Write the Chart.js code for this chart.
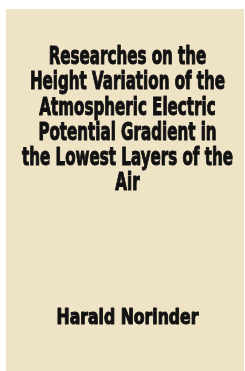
<!DOCTYPE html>
<html>
<head>
<meta charset="utf-8">
<script src="https://cdn.jsdelivr.net/npm/chart.js@4"></script>
<style>
  html, body { margin: 0; padding: 0; background: #ffffff; }
  canvas { display: block; }
</style>
</head>
<body>
<canvas id="coverChart" width="245" height="371"></canvas>
<script>
// cover texts
var titleLines = [
    'Researches on the',
    'Height Variation of the',
    'Atmospheric Electric',
    'Potential Gradient in',
    'the Lowest Layers of the',
    'Air'
];
var authorLines = ['Harald Norinder'];

// condensed lettering, drawn a little heavier than the stock bold
function drawLines(ctx, lines, cx, y0, step, sx) {
    lines.forEach(function(t, i) {
        ctx.save();
        ctx.translate(cx, y0 + i * step);
        ctx.scale(sx, 1);
        ctx.strokeText(t, 0, 0);
        ctx.fillText(t, 0, 0);
        ctx.restore();
    });
}

// draws the cover paper + the lettering
var coverPlugin = {
    id: 'cover',
    beforeDraw: function(chart) {
        var ctx = chart.ctx, a = chart.chartArea;
        ctx.save();
        ctx.fillStyle = '#efe3c6';
        ctx.fillRect(a.left, a.top, a.right - a.left, a.bottom - a.top);
        ctx.restore();
    },
    afterDraw: function(chart) {
        var ctx = chart.ctx, a = chart.chartArea;
        var cx = (a.left + a.right) / 2 + 2.5;
        ctx.save();
        ctx.fillStyle = '#111111';
        ctx.strokeStyle = '#111111';
        ctx.lineWidth = 1.0;
        ctx.lineJoin = 'round';
        ctx.textAlign = 'center';
        ctx.textBaseline = 'middle';
        ctx.font = 'bold 24px "DejaVu Sans Condensed", "DejaVu Sans", sans-serif';
        drawLines(ctx, titleLines, cx, 58, 25.2, 0.70);
        ctx.font = 'bold 21px "DejaVu Sans Condensed", "DejaVu Sans", sans-serif';
        drawLines(ctx, authorLines, cx, 319, 24, 0.83);
        ctx.restore();
    }
};

var ctx = document.getElementById('coverChart').getContext('2d');
var coverChart = new Chart(ctx, {
    type: 'bar',
    data: {
        labels: [],
        datasets: [{ data: [] }]
    },
    options: {
        responsive: false,
        animation: false,
        layout: { padding: { left: 6, top: 9, right: 1, bottom: 0 } },
        plugins: {
            legend: { display: false },
            tooltip: { enabled: false }
        },
        scales: {
            x: { display: false },
            y: { display: false }
        }
    },
    plugins: [coverPlugin]
});
</script>
</body>
</html>
